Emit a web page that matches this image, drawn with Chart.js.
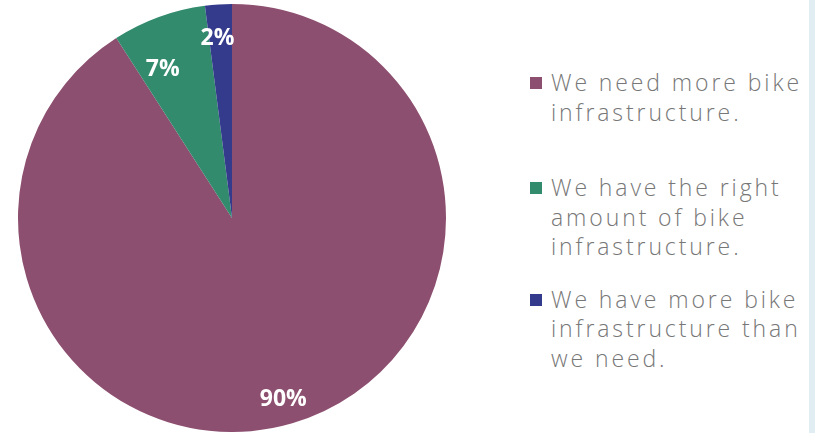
<!DOCTYPE html>
<html>
<head>
<meta charset="utf-8">
<script src="https://cdn.jsdelivr.net/npm/chart.js@4.4.0/dist/chart.umd.min.js"></script>
<style>
  html, body { margin: 0; padding: 0; background: #fff; }
  #wrap { position: relative; width: 815px; height: 433px; overflow: hidden; }
  #pieBox { position: absolute; left: 18px; top: 4px; width: 428px; height: 428px; }
  #strip { position: absolute; left: 809px; top: 0; width: 6px; height: 433px; background: #e0eef4; }
  #legend { position: absolute; left: 529px; top: 68px; margin: 0; padding: 0; list-style: none;
            font-family: "Open Sans", Lato, sans-serif; font-weight: 300; font-size: 23px;
            line-height: 29.5px; color: #777; letter-spacing: 2.9px; white-space: nowrap; }
  #legend li { position: relative; padding-left: 22px; }
  #legend li:nth-child(1) { margin-bottom: 46px; }
  #legend li:nth-child(2) { margin-bottom: 23px; }
  #legend .box { position: absolute; left: 1px; top: 9px; width: 12px; height: 12px; }
</style>
</head>
<body>
<div id="wrap">
  <div id="pieBox"><canvas id="myPieChart"></canvas></div>
  <ul id="legend"></ul>
  <div id="strip"></div>
</div>
<script>
var labels = [
  ['We need more bike', 'infrastructure.'],
  ['We have the right', 'amount of bike', 'infrastructure.'],
  ['We have more bike', 'infrastructure than', 'we need.']
];
var values = [90, 7, 2];
var colors = ['#8d4f6f', '#318b6c', '#353b8c'];

// small hand nudges, like the label moves in the original
var labelNudge = [[0, 7], [-7, 22], [-3, 2]];

// white percentage text inside each slice
var sliceLabels = {
    id: 'sliceLabels',
    afterDatasetsDraw: function(chart){
        var ctx = chart.ctx;
        var meta = chart.getDatasetMeta(0);
        ctx.save();
        ctx.fillStyle = '#fff';
        ctx.font = 'bold 23px "Open Sans", Lato, sans-serif';
        ctx.textAlign = 'center';
        ctx.textBaseline = 'middle';
        meta.data.forEach(function(arc, i){
            var mid = (arc.startAngle + arc.endAngle) / 2;
            var r = arc.outerRadius * 0.85;
            ctx.fillText(values[i] + '%',
                arc.x + Math.cos(mid) * r + labelNudge[i][0],
                arc.y + Math.sin(mid) * r + labelNudge[i][1]);
        });
        ctx.restore();
    }
};

var ctx = document.getElementById('myPieChart');
var myPieChart = new Chart(ctx, {
    type: 'pie',
    plugins: [sliceLabels],
    data: {
        labels: labels,
        datasets: [{
            data: values,
            backgroundColor: colors,
            borderWidth: 0
        }]
    },
    options: {
        responsive: true,
        maintainAspectRatio: false,
        animation: false,
        layout: { padding: 0 },
        plugins: {
            legend: { display: false },
            tooltip: { enabled: false }
        }
    }
});

// html legend built from the chart's own legend items
var html = '';
myPieChart.options.plugins.legend.labels.generateLabels(myPieChart).forEach(function(item){
    html += '<li><span class="box" style="background:' + item.fillStyle + '"></span>' +
            [].concat(item.text).join('<br>') + '</li>';
});
document.getElementById('legend').innerHTML = html;
</script>
</body>
</html>
